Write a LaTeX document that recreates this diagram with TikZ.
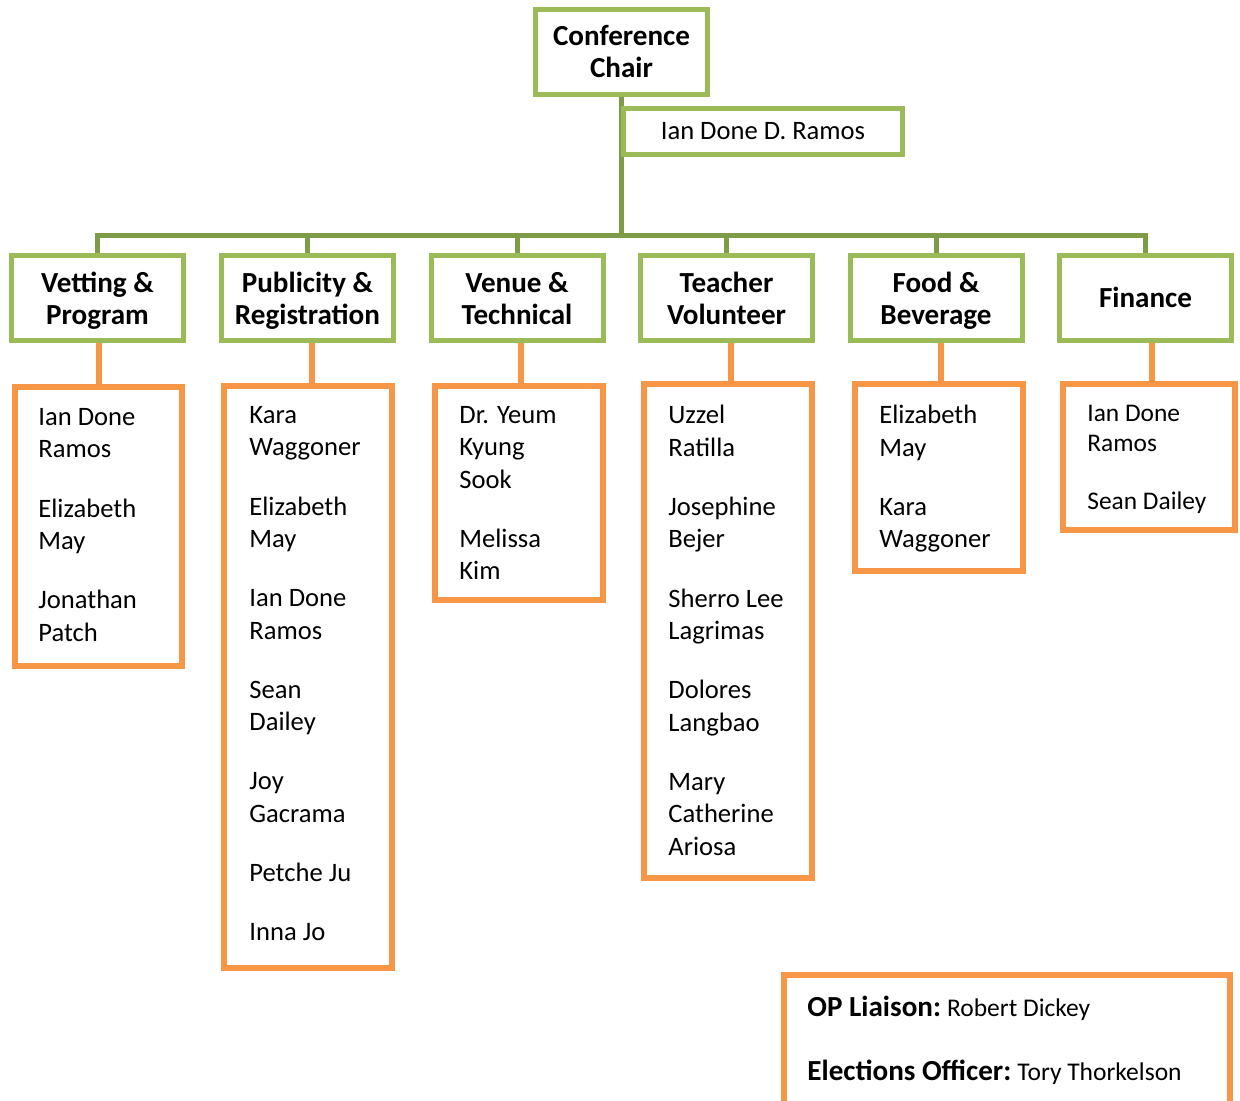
\documentclass[tikz,border=0pt]{standalone}
\usepackage{fontspec}
\setmainfont{Carlito}
\definecolor{boxgreen}{HTML}{9BBB59}
\definecolor{linkgreen}{HTML}{7E9C48}
\definecolor{boxorange}{HTML}{F79646}
\newcommand\hdrfont{\fontsize{14.55pt}{16pt}\selectfont\bfseries}
\newcommand\namefont{\fontsize{13.3pt}{16.2pt}\selectfont}
\newcommand\finfont{\fontsize{12.7pt}{15pt}\selectfont}
\newcommand\pg{\\[13.4pt]}
\newcommand\sttop[1][14pt]{\rule{0pt}{#1}}
\newcommand\stbot[1][4pt]{\rule[-#1]{0pt}{#1}}
\begin{document}
\begin{tikzpicture}[x=0.5pt,y=-0.5pt,
  gboxbase/.style={draw=boxgreen, line width=2.5pt, inner sep=0pt, align=center, fill=white},
  gbox/.style={gboxbase, font=\hdrfont, minimum width=86pt, minimum height=42.5pt},
  namebox/.style={gboxbase, font=\namefont},
  obox/.style={draw=boxorange, line width=3pt, inner sep=0pt, fill=white},
  glink/.style={draw=linkgreen, line width=2.5pt, line join=miter},
  olink/.style={draw=boxorange, line width=3pt},
  names/.style={anchor=north west, inner sep=0pt, align=left, font=\namefont, execute at begin node={\rule{0pt}{12pt}}},
]
\useasboundingbox (0,0) rectangle (1240,1101);
\clip (0,0) rectangle (1240,1101);

% top
\node[gbox] (chair) at (621.5,52) {\sttop[12pt]Conference\\Chair\stbot[2.8pt]};
\coordinate (bus) at (621.5,236);
\draw[glink] (chair.south) -- (bus);
\node[namebox, minimum width=139.5pt, minimum height=23pt] (ian) at (763,131.5) {\sttop[11pt]Ian Done D. Ramos\stbot[3pt]};

% committees
\node[gbox] (g1) at (97.5,298) {\sttop Vetting \&\\Program\stbot};
\node[gbox] (g2) at (307.5,298) {\sttop Publicity \&\\Registration\stbot};
\node[gbox] (g3) at (517,298) {\sttop Venue \&\\Technical\stbot};
\node[gbox] (g4) at (726.5,298) {\sttop Teacher\\Volunteer\stbot};
\node[gbox] (g5) at (936,298) {\sttop Food \&\\Beverage\stbot};
\node[gbox] (g6) at (1145.5,298) {\sttop Finance\stbot[5pt]};

\draw[glink] (g1.north) -- (g1.north |- bus) -- (g6.north |- bus) -- (g6.north);
\foreach \g in {g2,g3,g4,g5} \draw[glink] (\g.north |- bus) -- (\g.north);

% member boxes
\node[obox, minimum width=83.5pt, minimum height=139.5pt] (o1) at (98.5,526.5) {};
\node[obox, minimum width=84pt, minimum height=291pt] (o2) at (308,677) {};
\node[obox, minimum width=84pt, minimum height=107pt] (o3) at (519,493) {};
\node[obox, minimum width=84pt, minimum height=247pt] (o4) at (728,631) {};
\node[obox, minimum width=84pt, minimum height=93.5pt] (o5) at (939,477.5) {};
\node[obox, minimum width=86pt, minimum height=73pt] (o6) at (1149,457) {};

\foreach \i/\s in {1/0.25pt,2/2pt,3/1pt,4/1.5pt,5/1pt,6/1.5pt}
  \draw[olink] ([xshift=\s]o\i.north) -- ([xshift=\s]o\i.north |- g\i.south);

\node[names] (n1) at (38,408) {Ian Done\\Ramos\pg Elizabeth\\May\pg Jonathan\\Patch};
\node[names] (n2) at (249,406) {Kara\\Waggoner\pg Elizabeth\\May\pg Ian Done\\Ramos\pg Sean\\Dailey\pg Joy\\Gacrama\pg Petche Ju\pg Inna Jo};
\node[names] (n3) at (459,406) {Dr. Yeum\\Kyung\\Sook\pg Melissa\\Kim};
\node[names] (n4) at (668,405) {Uzzel\\Ratilla\pg Josephine\\Bejer\pg Sherro Lee\\Lagrimas\pg Dolores\\Langbao\pg Mary\\Catherine\\Ariosa};
\node[names] (n5) at (879,405) {Elizabeth\\May\pg Kara\\Waggoner};
\node[names, font=\finfont] (n6) at (1087,405) {Ian Done\\Ramos\\[13.65pt]Sean Dailey};

% liaison box
\node[obox, minimum width=223pt, minimum height=72.5pt] (o7) at (1007,1047.5) {};
\node[anchor=base west, inner sep=0pt] (op) at (807,1016.5) {{\hdrfont OP Liaison:} {\fontsize{12.75pt}{15pt}\selectfont Robert Dickey}};
\node[anchor=base west, inner sep=0pt] (eo) at (807,1080) {{\hdrfont Elections Officer:} {\fontsize{12.75pt}{15pt}\selectfont Tory Thorkelson}};
\end{tikzpicture}
\end{document}
